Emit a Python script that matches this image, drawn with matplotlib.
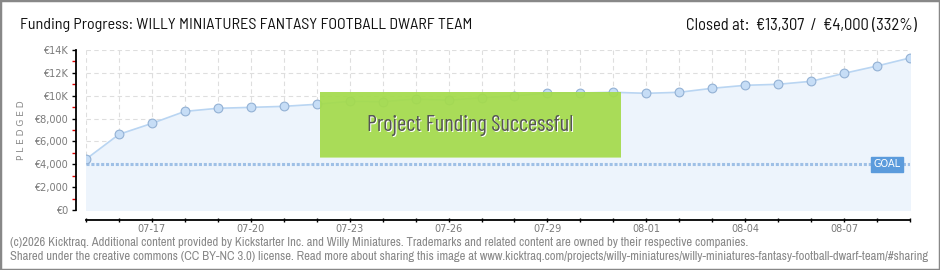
import matplotlib
matplotlib.use("Agg")
import matplotlib.pyplot as plt
import numpy as np
from matplotlib import font_manager as fm
from matplotlib.patches import Rectangle

names = {f.name for f in fm.fontManager.ttflist}


def pick(cands):
    for c in cands:
        if c in names:
            return [c, 'DejaVu Sans']
    return ['DejaVu Sans']


TITLE_FONT = pick(['Barlow Semi Condensed', 'Asap Condensed', 'Archivo Narrow'])
BANNER_FONT = pick(['Barlow Condensed', 'Barlow Semi Condensed', 'Asap Condensed'])
FOOT_FONT = pick(['Archivo Narrow', 'Asap Condensed', 'Barlow Semi Condensed'])
plt.rcParams['font.family'] = ['DejaVu Sans']

dates = ['07-15', '07-16', '07-17', '07-18', '07-19', '07-20', '07-21', '07-22', '07-23',
         '07-24', '07-25', '07-26', '07-27', '07-28', '07-29', '07-30', '07-31', '08-01',
         '08-02', '08-03', '08-04', '08-05', '08-06', '08-07', '08-08', '08-09']
pledged = [4450, 6620, 7580, 8630, 8900, 8980, 9070, 9250, 9510, 9480, 9710, 9600, 9830,
           9980, 10240, 10240, 10300, 10210, 10300, 10650, 10910, 11000, 11260, 11960,
           12600, 13307]
goal = 4000
ytick_vals = [0, 2000, 4000, 6000, 8000, 10000, 12000, 14000]
ytick_labels = ['€0', '€2,000', '€4,000', '€6,000', '€8,000', '€10K', '€12K', '€14K']

W, H = 940, 270
PX = 0.72  # points per pixel at dpi 100
fig = plt.figure(figsize=(W / 100, H / 100), dpi=100)
fig.patch.set_facecolor('white')

ax = fig.add_axes([86 / W, 1 - 210 / H, 824 / W, 160 / H])
x = np.arange(len(dates))
ax.set_xlim(0, len(dates) - 1)
ax.set_ylim(0, 14000)

ax.fill_between(x, pledged, 0, color='#edf4fc', zorder=1)
ax.plot(x, pledged, color='#b9d5f2', lw=1.2, zorder=3,
        marker='o', ms=6.3, mfc='#c6ddf6', mec='#93b1d4', mew=0.8)
ax.axhline(goal, color='#9fc0e6', lw=2.2, ls=(0, (1.0, 0.6)), zorder=2)

ax.grid(True, color='#dedede', ls=(0, (4, 3)), lw=0.8)
ax.set_axisbelow(True)
ax.set_xticks(x)
ax.set_xticklabels([d if i % 3 == 2 else '' for i, d in enumerate(dates)])
ax.set_yticks(ytick_vals)
ax.set_yticklabels(ytick_labels)
ax.set_yticks(np.arange(1000, 14000, 2000), minor=True)

for s in ['top', 'right']:
    ax.spines[s].set_visible(False)
ax.spines['left'].set_position(('outward', 10 * PX))
ax.spines['bottom'].set_position(('outward', 10 * PX))
ax.spines['left'].set_linewidth(1.3)
ax.spines['bottom'].set_linewidth(1.3)
ax.tick_params(axis='x', which='major', direction='inout', length=5 * PX, width=1,
               labelsize=7, labelcolor='#7a7a7a', pad=2 * PX)
ax.tick_params(axis='y', which='major', direction='out', length=4 * PX, width=1,
               labelsize=7, labelcolor='#7a7a7a', pad=4 * PX)
ax.tick_params(axis='y', which='minor', direction='out', length=4 * PX, width=1, color='#dd0000')

fig.text(22 / W, 1 - 130 / H, 'P L E D G E D', fontsize=6.5, color='#888888',
         rotation=90, ha='center', va='center')

# GOAL label
ax.text(24.3, goal, 'GOAL', fontsize=7, color='white', ha='center', va='center', zorder=6,
        bbox=dict(boxstyle='square,pad=0.25', fc='#5b9bdc', ec='#5b9bdc'))

# Success banner
bx0, bx1 = (320 - 86) / 824, (621 - 86) / 824
by0, by1 = (210 - 158) / 160, (210 - 92) / 160
ax.add_patch(Rectangle((bx0, by0), bx1 - bx0, by1 - by0, transform=ax.transAxes,
                       fc='#a4db4b', ec='none', alpha=0.93, zorder=5))
ax.add_patch(Rectangle((bx0, by0), bx1 - bx0, 1.5 / 160, transform=ax.transAxes,
                       fc='#c6e89a', ec='none', zorder=5))
cx, cy = (bx0 + bx1) / 2, (by0 + by1) / 2
sh = ax.text(cx + 0.0012, cy - 0.008, 'Project Funding Successful', transform=ax.transAxes,
             fontsize=14, color='white', ha='center', va='center', zorder=6, family=BANNER_FONT)
bt = ax.text(cx, cy, 'Project Funding Successful', transform=ax.transAxes,
             fontsize=14, color='#555555', ha='center', va='center', zorder=7, family=BANNER_FONT)

title = fig.text(20 / W, 1 - 25 / H,
                 'Funding Progress: WILLY MINIATURES FANTASY FOOTBALL DWARF TEAM',
                 fontsize=12, color='#111111', ha='left', va='center', family=TITLE_FONT)
closed = fig.text(917 / W, 1 - 25 / H, 'Closed at:  €13,307  /  €4,000 (332%)',
                  fontsize=12, color='#111111', ha='right', va='center', family=TITLE_FONT)
f1 = fig.text(10 / W, 1 - 243 / H,
              '(c)2026 Kicktraq. Additional content provided by Kickstarter Inc. and Willy Miniatures. '
              'Trademarks and related content are owned by their respective companies.',
              fontsize=7, color='#888888', ha='left', va='center', family=FOOT_FONT)
f2 = fig.text(10 / W, 1 - 256 / H,
              'Shared under the creative commons (CC BY-NC 3.0) license. Read more about sharing this image at '
              'www.kicktraq.com/projects/willy-miniatures/willy-miniatures-fantasy-football-dwarf-team/#sharing',
              fontsize=7, color='#888888', ha='left', va='center', family=FOOT_FONT)

fig.add_artist(Rectangle((0, 0), 1, 1, transform=fig.transFigure, fill=False,
                         ec='#888888', lw=2.5))


def fit(t, width_px):
    r = fig.canvas.get_renderer()
    w = t.get_window_extent(r).width
    t.set_fontsize(t.get_fontsize() * width_px / w)


fit(title, 453)
fit(closed, 232)
fit(bt, 206)
sh.set_fontsize(bt.get_fontsize())
fit(f2, 925)
fit(f1, 744)

fig.savefig('out.png', dpi=100, facecolor='white')
